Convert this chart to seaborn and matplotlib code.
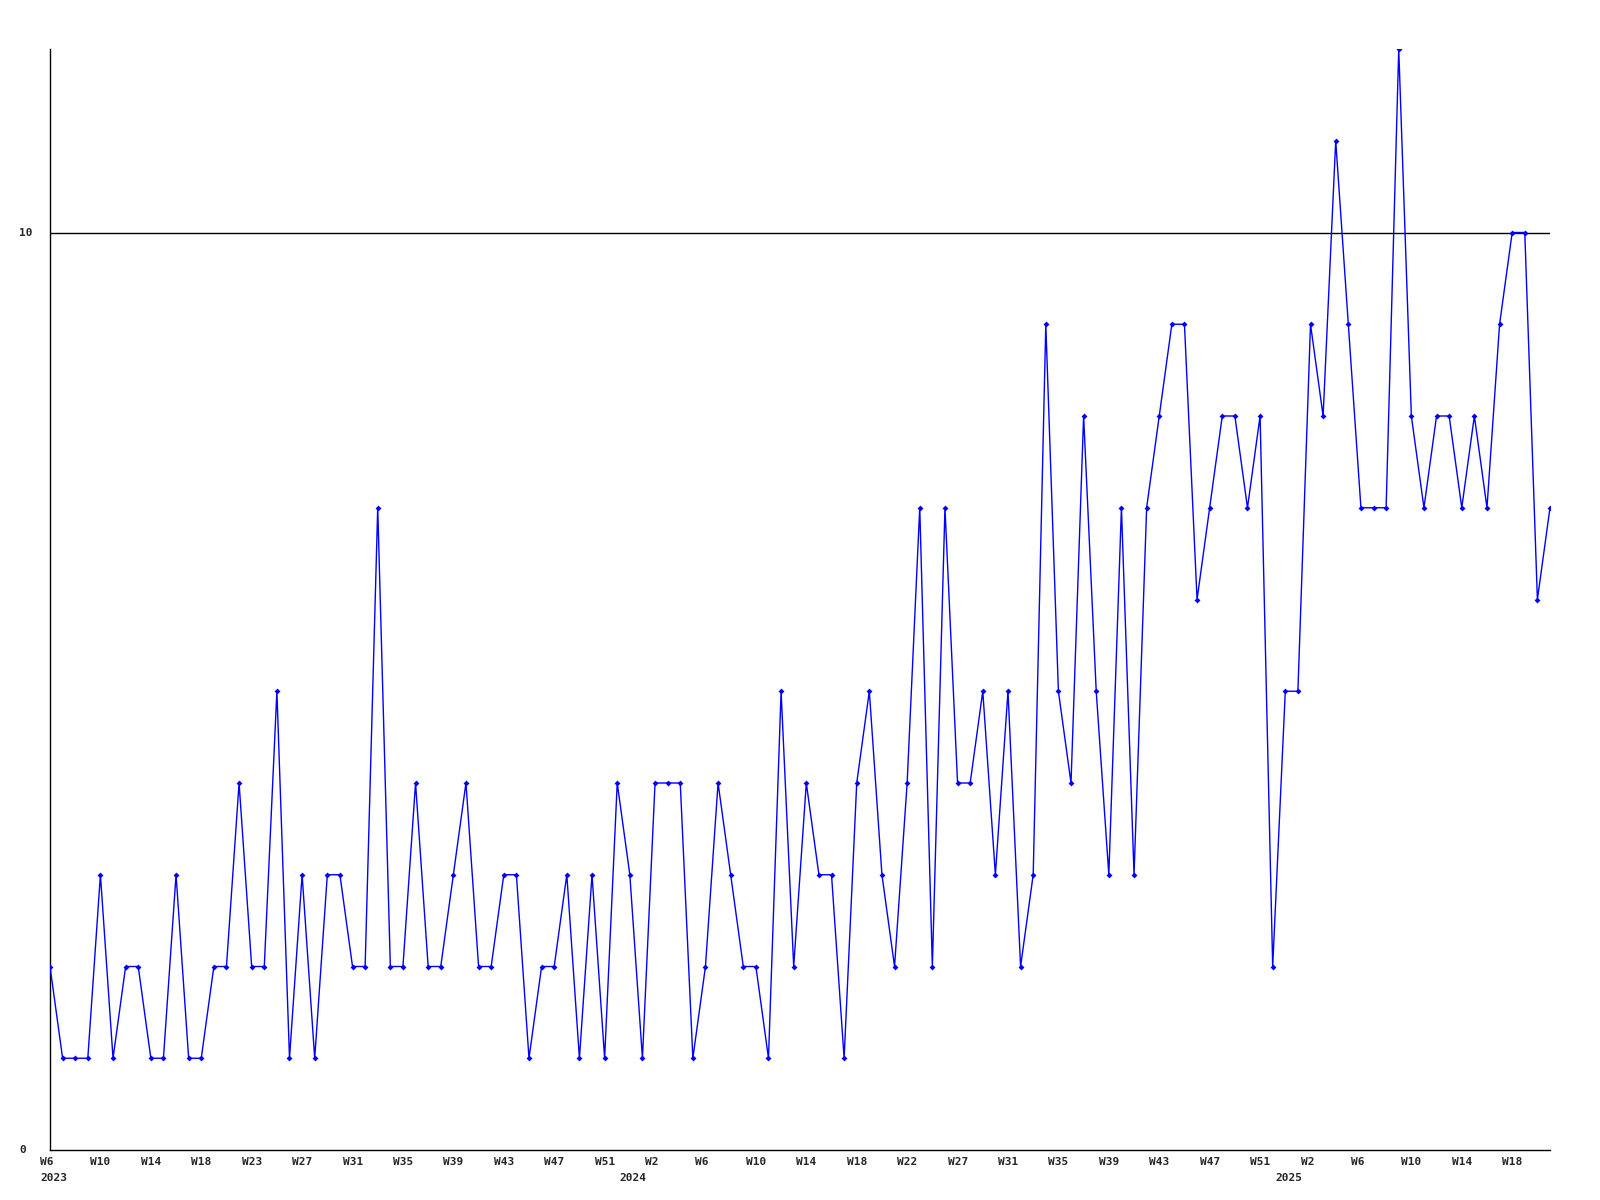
import matplotlib
matplotlib.use("Agg")
import matplotlib.pyplot as plt
import matplotlib.transforms as mtransforms
import seaborn as sns
import pandas as pd
import numpy as np

values = [2, 1, 1, 1, 3, 1, 2, 2, 1, 1, 3, 1, 1, 2, 2, 4, 2, 2, 5, 1,
          3, 1, 3, 3, 2, 2, 7, 2, 2, 4, 2, 2, 3, 4, 2, 2, 3, 3, 1, 2,
          2, 3, 1, 3, 1, 4, 3, 1, 4, 4, 4, 1, 2, 4, 3, 2, 2, 1, 5, 2,
          4, 3, 3, 1, 4, 5, 3, 2, 4, 7, 2, 7, 4, 4, 5, 3, 5, 2, 3, 9,
          5, 4, 8, 5, 3, 7, 3, 7, 8, 9, 9, 6, 7, 8, 8, 7, 8, 2, 5, 5,
          9, 8, 11, 9, 7, 7, 7, 12, 8, 7, 8, 8, 7, 8, 7, 9, 10, 10, 6, 7]

week_tick_labels = ["W6", "W10", "W14", "W18", "W23", "W27", "W31", "W35", "W39",
                    "W43", "W47", "W51", "W2", "W6", "W10", "W14", "W18", "W22",
                    "W27", "W31", "W35", "W39", "W43", "W47", "W51", "W2", "W6",
                    "W10", "W14", "W18"]
week_tick_index = list(range(0, 120, 4))
year_labels = ["2023", "2024", "2025"]
year_index = [0, 46, 98]
y_tick_values = [0, 10]

df = pd.DataFrame({"week": np.arange(len(values)), "count": values})

sns.set_style("white")
plt.rcParams["font.family"] = ["DejaVu Sans Mono", "DejaVu Sans"]

fig = plt.figure(figsize=(16, 12), dpi=100)
ax = fig.add_axes([50 / 1600, 1 - 1150 / 1200, 1500 / 1600, 1101 / 1200])

ax.axhline(10, color="black", lw=1.0, zorder=1)
sns.lineplot(data=df, x="week", y="count", ax=ax, color="#0000ff", lw=1.0,
             marker="D", markersize=3, markeredgewidth=0, zorder=3)

ax.set_xlim(0, len(values) - 1)
ax.set_ylim(0, 12)
ax.set_xlabel("")
ax.set_ylabel("")
ax.set_xticks(week_tick_index)
ax.set_xticklabels([])
ax.set_yticks(y_tick_values)
ax.set_yticklabels([])
ax.tick_params(axis="both", length=0)

for s in ["top", "right"]:
    ax.spines[s].set_visible(False)
for s in ["left", "bottom"]:
    ax.spines[s].set_color("black")
    ax.spines[s].set_linewidth(1.0)

# y tick labels, left-aligned like the reference
yoff = mtransforms.ScaledTranslation(-31 / 100, 0, fig.dpi_scale_trans)
ytrans = mtransforms.blended_transform_factory(ax.transAxes, ax.transData) + yoff
for v in y_tick_values:
    ax.text(0, v, str(v), transform=ytrans, ha="left", va="center",
            fontsize=8, fontweight="bold", clip_on=False)

offset = mtransforms.ScaledTranslation(-10 / 100, 0, fig.dpi_scale_trans)
trans = mtransforms.blended_transform_factory(ax.transData, ax.transAxes) + offset
for i, lab in zip(week_tick_index, week_tick_labels):
    ax.text(i, -0.006, lab, transform=trans, ha="left", va="top",
            fontsize=8, fontweight="bold", clip_on=False)
for i, lab in zip(year_index, year_labels):
    ax.text(i, -0.0205, lab, transform=trans, ha="left", va="top",
            fontsize=8, fontweight="bold", clip_on=False)

fig.savefig("out.png", dpi=100)
